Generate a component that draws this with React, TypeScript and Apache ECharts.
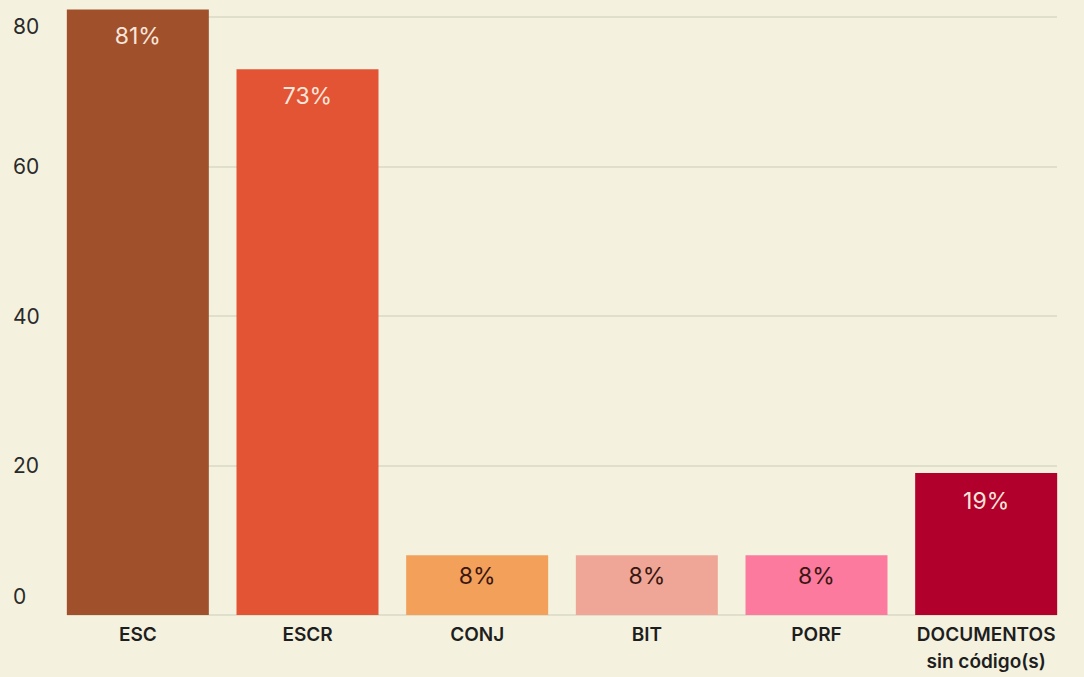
import React, { useEffect, useRef } from "react";
import * as echarts from "echarts";

const categories = ["ESC", "ESCR", "CONJ", "BIT", "PORF", "DOCUMENTOS\nsin código(s)"];
const values = [81, 73, 8, 8, 8, 19];
const barColors = ["#a1502c", "#e25434", "#f2a05a", "#efa696", "#fb7a9e", "#b2002c"];
const labelColors = ["#f9e6da", "#f9e6da", "#3a1612", "#3a1612", "#3a1612", "#f9e6da"];
const labelDistances = [15, 15, 9, 9, 9, 17];
const yTicks = [0, 20, 40, 60, 80];

export default function App() {
  const ref = useRef<HTMLDivElement>(null);
  useEffect(() => {
    if (!ref.current) return;
    const chart = echarts.init(ref.current, null, { renderer: "svg" });
    const font = "Inter, 'Noto Sans', sans-serif";
    chart.setOption({
      animation: false,
      backgroundColor: "#f4f2de",
      grid: [
        { left: 53, right: 13, top: 17, bottom: 62 },
        { left: 67, right: 27, top: 17, bottom: 62 },
      ],
      xAxis: [
        {
          type: "category",
          gridIndex: 0,
          data: categories,
          axisLine: { show: false },
          axisTick: { show: false },
          axisLabel: {
            color: "#1e1e1e",
            fontFamily: font,
            fontSize: 19,
            fontWeight: 600,
            lineHeight: 27,
            margin: 6,
            interval: 0,
          },
        },
        { type: "category", gridIndex: 1, data: categories, show: false },
      ],
      yAxis: [
        { type: "value", gridIndex: 0, min: 0, max: yTicks[yTicks.length - 1], interval: 20, show: false },
        {
          type: "value",
          gridIndex: 1,
          min: 0,
          max: yTicks[yTicks.length - 1],
          interval: 20,
          axisLine: { show: false },
          axisTick: { show: false },
          splitLine: { lineStyle: { color: "#d9d8c6", width: 1.5 } },
          axisLabel: {
            align: "left",
            margin: 54,
            color: "#2a2a2a",
            fontFamily: font,
            fontSize: 21,
            formatter: (v: number) => (v === 0 ? `{b|${v}}` : v === 80 ? `{t|${v}}` : `{m|${v}}`),
            rich: {
              b: { fontSize: 21, fontFamily: font, color: "#2a2a2a", padding: [0, 0, 38, 0] },
              t: { fontSize: 21, fontFamily: font, color: "#2a2a2a", padding: [18, 0, 0, 0] },
              m: { fontSize: 21, fontFamily: font, color: "#2a2a2a" },
            },
          },
        },
      ],
      series: [
        {
          type: "bar",
          xAxisIndex: 0,
          yAxisIndex: 0,
          barWidth: 142,
          clip: false,
          z: 3,
          data: values.map((v, i) => ({
            value: v,
            itemStyle: { color: barColors[i] },
            label: { color: labelColors[i], distance: labelDistances[i] },
          })),
          label: {
            show: true,
            position: "insideTop",
            fontFamily: font,
            fontSize: 23,
            formatter: "{c}%",
          },
        },
      ],
    });
    return () => chart.dispose();
  }, []);
  return <div ref={ref} style={{ width: 1084, height: 677, position: "absolute", left: 0, top: 0 }} />;
}
